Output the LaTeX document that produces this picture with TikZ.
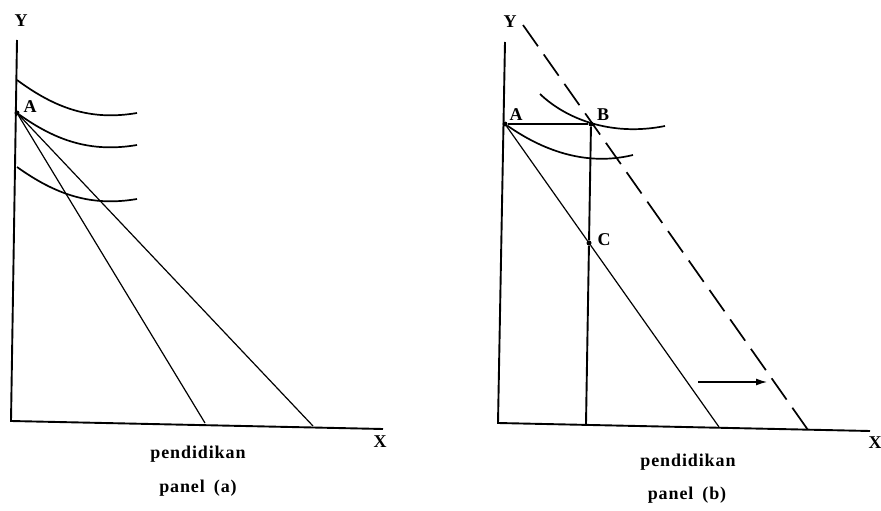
\documentclass[tikz,border=0pt]{standalone}
\usepackage{fontspec}
\setmainfont{Liberation Serif}
\newfontfamily\spaced[LetterSpace=5]{Liberation Serif}
\usetikzlibrary{arrows.meta}
\tikzset{
  axis/.style={line width=1.9pt},
  curve/.style={line width=1.7pt},
  budget/.style={line width=1.2pt},
  shifted/.style={line width=1.7pt, dash pattern=on 26pt off 10pt},
  lbl/.style={font=\fontsize{18}{20}\selectfont\bfseries, inner sep=0pt, anchor=base},
  captxt/.style={font=\fontsize{18}{20}\selectfont\spaced\bfseries, inner sep=0pt, anchor=base},
  dotpt/.style={circle, fill=black, inner sep=0pt, minimum size=5pt}
}
\begin{document}
\begin{tikzpicture}[x=1pt,y=-1pt]
\useasboundingbox (0,0) rectangle (881,511);
% ---------- panel (a) ----------
\coordinate (aYt) at (17,40);
\coordinate (aO) at (11,421);
\coordinate (aXe) at (383,429);
\node[dotpt] (aA) at (17,113) {};
\coordinate (aL1) at (205,423);
\coordinate (aL2) at (313,426);
\draw[axis] (aYt) -- (aO) -- (aXe);
\draw[budget] (aA) -- (aL1);
\draw[budget] (aA) -- (aL2);
\draw[curve] (17,80) .. controls (55,108) and (90,121) .. (137,113);
\draw[curve] (aA) .. controls (55,140) and (90,153) .. (137,145);
\draw[curve] (17,167) .. controls (55,194) and (90,207) .. (137,199);
\node[lbl] (aYl) at (21,27) {Y};
\node[lbl] (aXl) at (380,447) {X};
\node[lbl] (aAl) at (30,113) {A};
\node[captxt] (aP) at (198,458) {pendidikan};
\node[captxt] (aC) at (198,492) {panel\hspace{9pt}(a)};
% ---------- panel (b) ----------
\coordinate (bYt) at (505,42);
\coordinate (bO) at (498,423);
\coordinate (bXe) at (870,431);
\node[dotpt] (bA) at (505,124) {};
\node[dotpt] (bB) at (591,124) {};
\node[dotpt] (bC) at (589,243) {};
\coordinate (bVb) at (586,424);
\coordinate (bL) at (719,427);
\coordinate (bDt) at (523,25);
\coordinate (bDb) at (808,430);
\draw[axis] (bYt) -- (bO) -- (bXe);
\draw[axis] (bA) -- (bB);
\draw[axis] (bB) -- (bC) -- (bVb);
\draw[budget] (bA) -- (bC) -- (bL);
\draw[shifted] (bDt) -- (bDb);
\draw[curve] (540,94) .. controls (565,118) and (610,137) .. (665,126);
\draw[curve] (bA) .. controls (535,145) and (580,168) .. (633,155);
\coordinate (bArS) at (698,382);
\coordinate (bArE) at (767,382);
\draw[line width=1.3pt, -{Latex[length=11pt,width=7pt]}] (bArS) -- (bArE);
\node[lbl] (bYl) at (510,28) {Y};
\node[lbl] (bXl) at (875,448) {X};
\node[lbl] (bAl) at (516,120) {A};
\node[lbl] (bBl) at (603,121) {B};
\node[lbl] (bCl) at (604,245) {C};
\node[captxt] (bP) at (688,466) {pendidikan};
\node[captxt] (bCp) at (687,499) {panel\hspace{9pt}(b)};
\end{tikzpicture}
\end{document}
